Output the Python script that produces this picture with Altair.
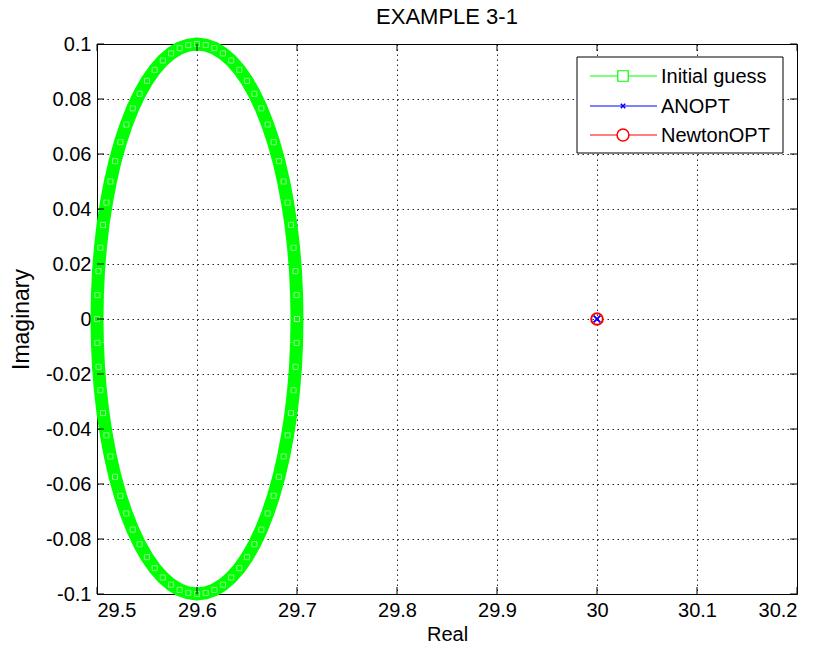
import altair as alt
import pandas as pd

# Initial guess: points on an ellipse around 29.6
guess_re = [29.7, 29.6996, 29.6985, 29.6966, 29.6940, 29.6906, 29.6866, 29.6819, 29.6766, 29.6707,
            29.6643, 29.6574, 29.65, 29.6423, 29.6342, 29.6259, 29.6174, 29.6087, 29.6,
            29.5913, 29.5826, 29.5741, 29.5658, 29.5577, 29.55, 29.5426, 29.5357, 29.5293,
            29.5234, 29.5181, 29.5134, 29.5094, 29.5060, 29.5034, 29.5015, 29.5004, 29.5,
            29.5004, 29.5015, 29.5034, 29.5060, 29.5094, 29.5134, 29.5181, 29.5234, 29.5293,
            29.5357, 29.5426, 29.55, 29.5577, 29.5658, 29.5741, 29.5826, 29.5913, 29.6,
            29.6087, 29.6174, 29.6259, 29.6342, 29.6423, 29.65, 29.6574, 29.6643, 29.6707,
            29.6766, 29.6819, 29.6866, 29.6906, 29.6940, 29.6966, 29.6985, 29.6996, 29.7]
guess_im = [0.0, 0.0087, 0.0174, 0.0259, 0.0342, 0.0423, 0.05, 0.0574, 0.0643, 0.0707,
            0.0766, 0.0819, 0.0866, 0.0906, 0.0940, 0.0966, 0.0985, 0.0996, 0.1,
            0.0996, 0.0985, 0.0966, 0.0940, 0.0906, 0.0866, 0.0819, 0.0766, 0.0707,
            0.0643, 0.0574, 0.05, 0.0423, 0.0342, 0.0259, 0.0174, 0.0087, 0.0,
            -0.0087, -0.0174, -0.0259, -0.0342, -0.0423, -0.05, -0.0574, -0.0643, -0.0707,
            -0.0766, -0.0819, -0.0866, -0.0906, -0.0940, -0.0966, -0.0985, -0.0996, -0.1,
            -0.0996, -0.0985, -0.0966, -0.0940, -0.0906, -0.0866, -0.0819, -0.0766, -0.0707,
            -0.0643, -0.0574, -0.05, -0.0423, -0.0342, -0.0259, -0.0174, -0.0087, 0.0]

anopt_re = [30.0]
anopt_im = [0.0]
newton_re = [30.0]
newton_im = [0.0]

x_ticks = [29.5, 29.6, 29.7, 29.8, 29.9, 30.0, 30.1, 30.2]
y_ticks = [-0.1, -0.08, -0.06, -0.04, -0.02, 0.0, 0.02, 0.04, 0.06, 0.08, 0.1]

legend_names = ["Initial guess", "ANOPT", "NewtonOPT"]
legend_colors = ["#00ff00", "#0000ff", "#ff0000"]

FONT = "Liberation Sans"
W, H = 700, 550

xs = alt.Scale(domain=[29.5, 30.2], nice=False, zero=False)
ys = alt.Scale(domain=[-0.1, 0.1], nice=False, zero=False)

X = alt.X("re:Q", scale=xs, axis=alt.Axis(
    title="Real", values=x_ticks,
    labelExpr="toString(round(datum.value*10)/10)",
    titlePadding=4))
Y = alt.Y("im:Q", scale=ys, axis=alt.Axis(
    title="Imaginary", values=y_ticks,
    labelExpr="toString(round(datum.value*100)/100)",
    titlePadding=12, titleFontSize=23))

guess_df = pd.DataFrame({"re": guess_re, "im": guess_im, "i": list(range(len(guess_re)))})
anopt_df = pd.DataFrame({"re": anopt_re, "im": anopt_im})
newton_df = pd.DataFrame({"re": newton_re, "im": newton_im})
xt_df = pd.DataFrame({"re": x_ticks})
yt_df = pd.DataFrame({"im": y_ticks})

band = alt.Chart(guess_df).mark_line(color="#00ff00", strokeWidth=13, strokeJoin="round").encode(
    x=X, y=Y, order=alt.Order("i:Q"))
squares = alt.Chart(guess_df).mark_point(shape="square", filled=False, color="#a8ffa8",
                                         size=26, strokeWidth=1, opacity=0.8).encode(x=X, y=Y)

newton = alt.Chart(newton_df).mark_point(shape="circle", filled=False, color="#ff0000",
                                         size=135, strokeWidth=2, opacity=1).encode(x=X, y=Y)
xpath = "M-1,-1L1,1M-1,1L1,-1"
anopt = alt.Chart(anopt_df).mark_point(shape=xpath, filled=False, color="#0000ff",
                                       size=45, strokeWidth=2, opacity=1).encode(x=X, y=Y)

tick_len = 7
tb = alt.Chart(xt_df).mark_rule(color="black").encode(x=X, y=alt.value(H), y2=alt.value(H - tick_len))
tt = alt.Chart(xt_df).mark_rule(color="black").encode(x=X, y=alt.value(0), y2=alt.value(tick_len))
tl = alt.Chart(yt_df).mark_rule(color="black").encode(y=Y, x=alt.value(0), x2=alt.value(tick_len))
tr = alt.Chart(yt_df).mark_rule(color="black").encode(y=Y, x=alt.value(W), x2=alt.value(W - tick_len))

# Legend (drawn in pixel layout)
lg_left, lg_right, lg_top, lg_bottom = 480, 686, 13, 109
row_y = [32, 62, 91]
legend_box = alt.Chart(pd.DataFrame({"a": [0]})).mark_rect(
    fill="white", stroke="black", strokeWidth=1).encode(
    x=alt.value(lg_left), x2=alt.value(lg_right), y=alt.value(lg_top), y2=alt.value(lg_bottom))
legend_layers = [legend_box]
marker_specs = [
    dict(shape="square", size=110, strokeWidth=1.2),
    dict(shape=xpath, size=20, strokeWidth=1.5),
    dict(shape="circle", size=140, strokeWidth=1.5),
]
for name, col, ry, ms in zip(legend_names, legend_colors, row_y, marker_specs):
    df = pd.DataFrame({"name": [name]})
    legend_layers.append(alt.Chart(df).mark_rule(color=col, strokeWidth=1.2).encode(
        x=alt.value(493), x2=alt.value(560), y=alt.value(ry)))
    legend_layers.append(alt.Chart(df).mark_point(filled=False, color=col, opacity=1,
                                                  fill="white", **ms).encode(
        x=alt.value(526), y=alt.value(ry)))
    legend_layers.append(alt.Chart(df).mark_text(align="left", baseline="middle", font=FONT,
                                                 fontSize=20, color="black").encode(
        x=alt.value(564), y=alt.value(ry + 1), text="name:N"))

chart = alt.layer(band, squares, newton, anopt, tb, tt, tl, tr, *legend_layers).properties(
    width=W, height=H,
    background="white",
    title=alt.TitleParams("EXAMPLE 3-1", font=FONT, fontSize=22, fontWeight="normal",
                          color="black", offset=5, anchor="middle"),
    autosize=alt.AutoSizeParams(type="none"),
    padding={"left": 97, "top": 44, "right": 22, "bottom": 58},
).configure_view(stroke="black", strokeWidth=1).configure_axis(
    domain=False, ticks=False, grid=True, gridColor="black", gridDash=[1.5, 3.5],
    gridOpacity=0.85, labelFont=FONT, labelFontSize=20, labelColor="black",
    titleFont=FONT, titleFontSize=20, titleFontWeight="normal", titleColor="black",
    labelPadding=6,
)

chart.save("out.html", embed_options={"renderer": "svg", "actions": False})
